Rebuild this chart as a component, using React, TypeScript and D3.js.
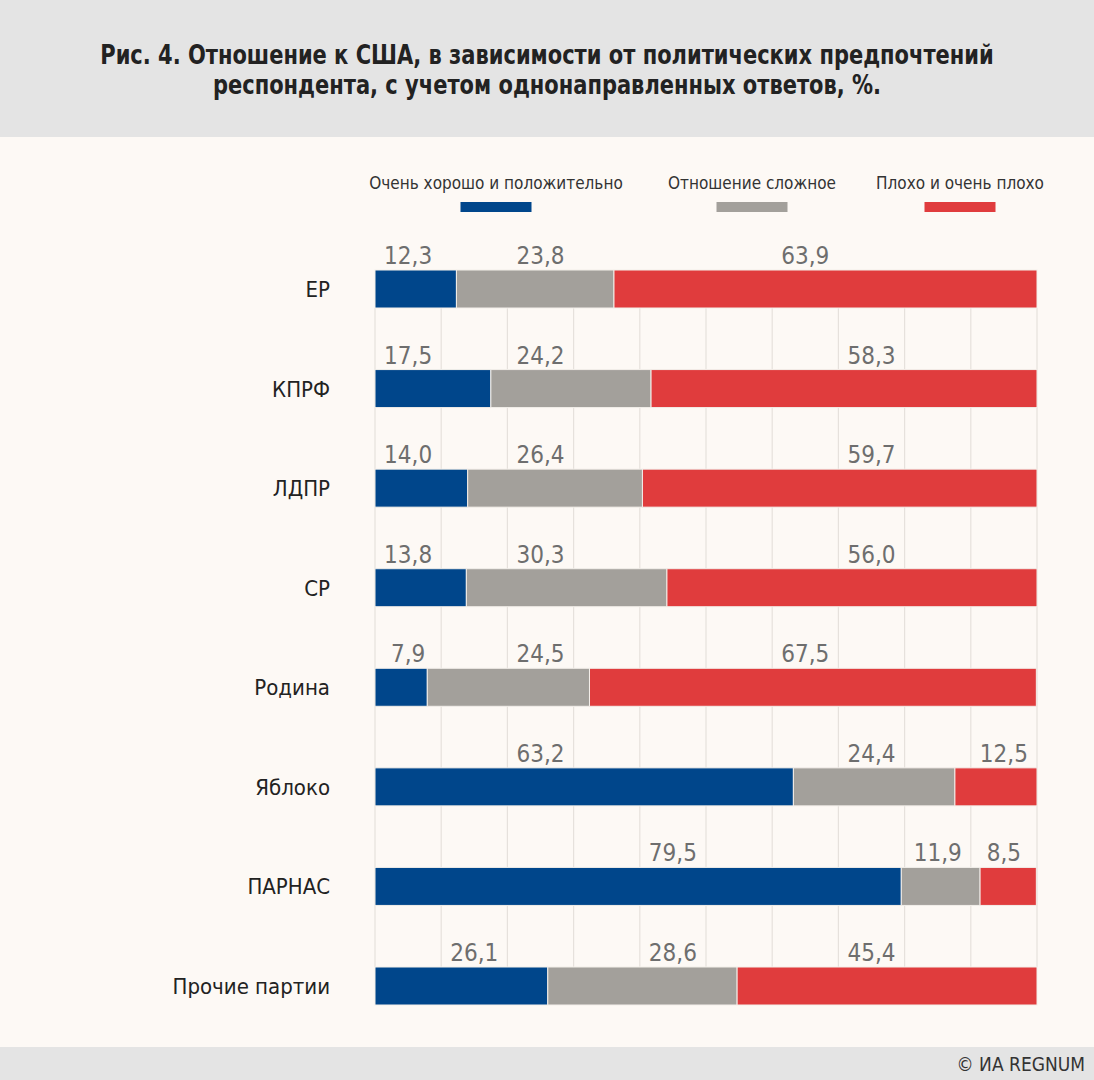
import React from "react";
import * as d3 from "d3";

const categories = ["ЕР", "КПРФ", "ЛДПР", "СР", "Родина", "Яблоко", "ПАРНАС", "Прочие партии"];
const seriesNames = ["Очень хорошо и положительно", "Отношение сложное", "Плохо и очень плохо"];
const positive = [12.3, 17.5, 14.0, 13.8, 7.9, 63.2, 79.5, 26.1];
const complicated = [23.8, 24.2, 26.4, 30.3, 24.5, 24.4, 11.9, 28.6];
const negative = [63.9, 58.3, 59.7, 56.0, 67.5, 12.5, 8.5, 45.4];
// decile cell (0..9) in which each value label sits
const labelCells = [
  [0, 2, 6],
  [0, 2, 7],
  [0, 2, 7],
  [0, 2, 7],
  [0, 2, 6],
  [2, 7, 9],
  [4, 8, 9],
  [1, 4, 7],
];
const gridTicks = d3.range(0, 101, 10);
const titleLines = [
  "Рис. 4. Отношение к США, в зависимости от политических предпочтений",
  "респондента, с учетом однонаправленных ответов, %.",
];

const colors = ["#00468b", "#a3a09b", "#e03c3d"];
const FONT = "'Liberation Sans Narrow', 'DejaVu Sans Condensed', 'Roboto', sans-serif";

export default function App() {
  const W = 1094;
  const H = 1080;
  const x = d3.scaleLinear().domain([0, 100]).range([375, 1037]);
  const yb = d3
    .scaleLinear()
    .domain([0, categories.length - 1])
    .range([270, 967]);
  const barH = 38;

  const rows = categories.map((c, i) => {
    const vals = [positive[i], complicated[i], negative[i]];
    let acc = 0;
    const segs = vals.map((v, j) => {
      const s = { x0: acc, x1: Math.min(100, acc + v), v, j };
      acc += v;
      return s;
    });
    return { c, i, segs };
  });

  const fmt = (v: number) => d3.format(".1f")(v).replace(".", ",");

  const legendCenters = [496, 752, 960];

  return (
    <svg width={W} height={H} style={{ position: "absolute", left: 0, top: 0 }} fontFamily={FONT}>
      <rect x={0} y={0} width={W} height={H} fill="#fdf9f5" />
      <rect x={0} y={0} width={W} height={137} fill="#e4e4e4" />
      <rect x={0} y={1047} width={W} height={33} fill="#e4e4e4" />
      {titleLines.map((t, k) => (
        <g key={k} transform={`translate(547,${64 + k * 30}) scale(0.898,1)`}>
          <text x={0} y={0} textAnchor="middle" fontSize={26} fontWeight="bold" fill="#222">
            {t}
          </text>
        </g>
      ))}

      {seriesNames.map((s, j) => (
        <g key={s}>
          <text x={legendCenters[j]} y={189} textAnchor="middle" fontSize={17} fill="#333">
            {s}
          </text>
          <rect x={legendCenters[j] - 35.5} y={202} width={71} height={10} fill={colors[j]} />
        </g>
      ))}

      {gridTicks.map((t) => (
        <line key={t} x1={x(t)} x2={x(t)} y1={yb(0) + barH} y2={yb(categories.length - 1)} stroke="#e6e1dc" strokeWidth={1.2} />
      ))}

      {rows.map((r) => (
        <g key={r.c}>
          <text x={330} y={yb(r.i) + barH / 2 + 8} textAnchor="end" fontSize={22} fill="#222">
            {r.c}
          </text>
          {r.segs.map((s) => (
            <rect
              key={s.j}
              x={x(s.x0)}
              y={yb(r.i)}
              width={Math.max(0, x(s.x1) - x(s.x0))}
              height={barH}
              fill={colors[s.j]}
              stroke="#f3efea"
              strokeWidth={1}
            />
          ))}
          {r.segs.map((s) => (
            <text
              key={"l" + s.j}
              x={x(labelCells[r.i][s.j] * 10 + 5)}
              y={yb(r.i) - 6}
              textAnchor="middle"
              fontSize={24}
              fill="#6e6e6e"
            >
              {fmt(s.v)}
            </text>
          ))}
        </g>
      ))}

      <text x={1085} y={1071} textAnchor="end" fontSize={19} fill="#333">
        © ИА REGNUM
      </text>
    </svg>
  );
}
